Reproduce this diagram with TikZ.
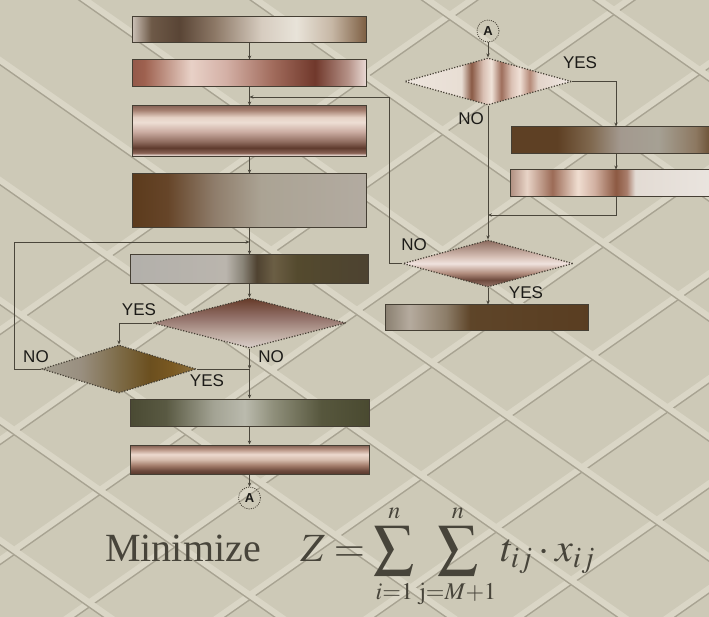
\documentclass[tikz,border=0pt]{standalone}
\usepackage{mathptmx}
\usepackage{fontspec}
\setmainfont{Liberation Serif}
\setsansfont{Liberation Sans}
\usetikzlibrary{arrows.meta, shapes.geometric}
\definecolor{fondo}{HTML}{CDC9B7}
\definecolor{claro}{HTML}{DAD6C6}
\definecolor{sombra}{HTML}{A8A392}
\definecolor{borde}{HTML}{453F34}
\definecolor{trazo}{HTML}{4A463B}
\definecolor{texto}{HTML}{1C1B18}
\definecolor{relieve}{HTML}{47443A}

% degradados de las cajas (la parte util va de 25bp a 75bp)
\pgfdeclarehorizontalshading{cajauno}{100bp}{rgb(0bp)=(.79,.75,.71); rgb(25bp)=(.79,.75,.71); rgb(29bp)=(.43,.35,.28); rgb(35bp)=(.35,.27,.21); rgb(42.5bp)=(.55,.47,.40); rgb(52.5bp)=(.84,.80,.75); rgb(60bp)=(.91,.89,.85); rgb(67.5bp)=(.78,.72,.65); rgb(75bp)=(.49,.37,.26); rgb(100bp)=(.49,.37,.26)}
\pgfdeclarehorizontalshading{cajados}{100bp}{rgb(0bp)=(.58,.35,.29); rgb(25bp)=(.58,.35,.29); rgb(27.5bp)=(.62,.38,.31); rgb(37.5bp)=(.91,.82,.78); rgb(45bp)=(.83,.69,.65); rgb(55bp)=(.63,.42,.36); rgb(64bp)=(.44,.22,.17); rgb(71bp)=(.71,.57,.53); rgb(75bp)=(.92,.86,.84); rgb(100bp)=(.92,.86,.84)}
\pgfdeclareverticalshading{cajatres}{100bp}{rgb(0bp)=(.36,.25,.20); rgb(25bp)=(.36,.25,.20); rgb(27bp)=(.88,.81,.78); rgb(29bp)=(.54,.39,.34); rgb(34bp)=(.37,.23,.18); rgb(40bp)=(.56,.42,.37); rgb(50bp)=(.80,.68,.64); rgb(59bp)=(.93,.87,.83); rgb(64bp)=(.90,.82,.77); rgb(71bp)=(.65,.50,.44); rgb(75bp)=(.54,.40,.35); rgb(100bp)=(.54,.40,.35)}
\pgfdeclarehorizontalshading{cajacuatro}{100bp}{rgb(0bp)=(.36,.23,.11); rgb(25bp)=(.36,.23,.11); rgb(32.5bp)=(.40,.27,.16); rgb(42.5bp)=(.56,.49,.42); rgb(52.5bp)=(.67,.64,.58); rgb(75bp)=(.70,.67,.63); rgb(100bp)=(.70,.67,.63)}
\pgfdeclarehorizontalshading{cajacinco}{100bp}{rgb(0bp)=(.70,.69,.67); rgb(25bp)=(.70,.69,.67); rgb(45bp)=(.73,.71,.68); rgb(48.5bp)=(.54,.52,.47); rgb(51.5bp)=(.31,.26,.19); rgb(55bp)=(.42,.37,.27); rgb(60bp)=(.33,.29,.18); rgb(75bp)=(.30,.26,.19); rgb(100bp)=(.30,.26,.19)}
\pgfdeclarehorizontalshading{cajaseis}{100bp}{rgb(0bp)=(.29,.29,.20); rgb(25bp)=(.29,.29,.20); rgb(32.5bp)=(.35,.35,.26); rgb(42.5bp)=(.64,.64,.58); rgb(49bp)=(.73,.73,.68); rgb(55bp)=(.56,.56,.48); rgb(65bp)=(.34,.34,.24); rgb(75bp)=(.29,.29,.19); rgb(100bp)=(.29,.29,.19)}
\pgfdeclareverticalshading{cajasiete}{100bp}{rgb(0bp)=(.35,.23,.18); rgb(25bp)=(.35,.23,.18); rgb(31bp)=(.43,.29,.24); rgb(40bp)=(.64,.49,.42); rgb(50bp)=(.84,.74,.68); rgb(59bp)=(.93,.85,.81); rgb(67.5bp)=(.72,.58,.52); rgb(75bp)=(.49,.35,.30); rgb(100bp)=(.49,.35,.30)}
\pgfdeclarehorizontalshading{cajaocho}{100bp}{rgb(0bp)=(.37,.25,.14); rgb(36bp)=(.37,.25,.14); rgb(44bp)=(.50,.41,.31); rgb(51bp)=(.64,.60,.56); rgb(60bp)=(.65,.63,.58); rgb(69bp)=(.55,.47,.38); rgb(72.5bp)=(.42,.32,.21); rgb(100bp)=(.42,.32,.21)}
\pgfdeclarehorizontalshading{cajanueve}{100bp}{rgb(0bp)=(.69,.56,.50); rgb(25bp)=(.69,.56,.50); rgb(29bp)=(.91,.83,.78); rgb(35bp)=(.61,.42,.34); rgb(41bp)=(.94,.87,.82); rgb(45bp)=(.82,.69,.63); rgb(50bp)=(.55,.35,.26); rgb(52.5bp)=(.66,.49,.42); rgb(54.5bp)=(.89,.86,.83); rgb(75bp)=(.92,.90,.88); rgb(100bp)=(.92,.90,.88)}
\pgfdeclarehorizontalshading{cajadiez}{100bp}{rgb(0bp)=(.54,.50,.44); rgb(25bp)=(.54,.50,.44); rgb(31bp)=(.71,.67,.62); rgb(40bp)=(.55,.49,.41); rgb(46bp)=(.37,.27,.16); rgb(75bp)=(.35,.24,.13); rgb(100bp)=(.35,.24,.13)}
% degradados de los rombos
\pgfdeclareverticalshading{rombouno}{100bp}{rgb(0bp)=(.85,.81,.79); rgb(25bp)=(.85,.81,.79); rgb(40bp)=(.73,.65,.61); rgb(55bp)=(.58,.45,.42); rgb(75bp)=(.40,.23,.16); rgb(100bp)=(.40,.23,.16)}
\pgfdeclarehorizontalshading{rombodos}{100bp}{rgb(0bp)=(.64,.62,.56); rgb(25bp)=(.64,.62,.56); rgb(37.5bp)=(.60,.56,.50); rgb(50bp)=(.49,.42,.28); rgb(60bp)=(.42,.31,.12); rgb(67.5bp)=(.48,.35,.13); rgb(75bp)=(.54,.44,.25); rgb(100bp)=(.54,.44,.25)}
\pgfdeclarehorizontalshading{rombotres}{100bp}{rgb(0bp)=(.93,.90,.87); rgb(25bp)=(.93,.90,.87); rgb(42bp)=(.91,.87,.83); rgb(45bp)=(.54,.35,.27); rgb(48.5bp)=(.85,.75,.70); rgb(51bp)=(.94,.89,.85); rgb(54bp)=(.62,.43,.36); rgb(57bp)=(.86,.76,.71); rgb(59.5bp)=(.94,.88,.84); rgb(62.5bp)=(.71,.54,.47); rgb(65bp)=(.89,.83,.79); rgb(75bp)=(.94,.91,.89); rgb(100bp)=(.94,.91,.89)}
\pgfdeclareverticalshading{rombocuatro}{100bp}{rgb(0bp)=(.58,.45,.41); rgb(25bp)=(.58,.45,.41); rgb(32.5bp)=(.43,.29,.24); rgb(40bp)=(.70,.56,.50); rgb(50bp)=(.94,.89,.87); rgb(57.5bp)=(.84,.75,.71); rgb(75bp)=(.55,.42,.37); rgb(100bp)=(.55,.42,.37)}

\begin{document}
\begin{tikzpicture}[x=1pt, y=-1pt,
    caja/.style={draw=borde, line width=1pt, inner sep=0pt},
    rombo/.style={diamond, draw=borde, line width=1.2pt, dash pattern=on 1.2pt off 1.6pt, inner sep=0pt},
    enlace/.style={circle, draw=borde, line width=0.8pt, dash pattern=on 1pt off 1.2pt,
                   minimum size=22pt, inner sep=0pt, text=texto, font=\sffamily\bfseries\fontsize{13}{13}\selectfont},
    flujo/.style={draw=trazo, line width=0.8pt, -{Stealth[length=4pt,width=3.4pt]}},
    linea/.style={draw=trazo, line width=0.8pt},
    rotulo/.style={inner sep=0pt, text=texto, font=\sffamily\fontsize{17}{17}\selectfont},
    camino/.style={draw=claro, line width=6pt},
    borde camino/.style={draw=sombra, line width=2.5pt},
    formula/.style={inner sep=0pt, text=relieve, font=\fontsize{40}{48}\selectfont}]
	\useasboundingbox (0,0) rectangle (709,617);
	\fill[fondo] (0,0) rectangle (709,617);

	% calles del fondo
	\begin{scope}
		\clip (0,0) rectangle (709,617);
		\foreach \c in {330, 440, 560, 665, 770, 875, 980, 1085} {
			\draw[borde camino] (-400,\c+284) -- ++(-35:1800);
			\draw[camino] (-400,\c+280) -- ++(-35:1800);
		}
		\foreach \c in {-420, -300, -180, -60, 60, 180, 300, 420, 540} {
			\draw[borde camino] (-400,\c-276) -- ++(35:1800);
			\draw[camino] (-400,\c-280) -- ++(35:1800);
		}
	\end{scope}

	% cajas
	\foreach \n/\x/\y/\w/\h/\s in {caja1/249.5/30/234/26/cajauno, caja2/249.5/73.5/234/27/cajados,
	                               caja3/249.5/131.5/234/51/cajatres, caja4/249.5/201/234/54/cajacuatro,
	                               caja5/249.5/269.5/238/29/cajacinco, caja6/249.5/412.5/239/27/cajaseis,
	                               caja7/249.5/459.5/239/29/cajasiete, cajaR1/616/140.5/210/27/cajaocho,
	                               cajaR2/616/183.5/212/27/cajanueve, cajaR3/486.5/318/203/26/cajadiez} {
		\node[caja, minimum width=\w, minimum height=\h, shading=\s] (\n) at (\x,\y) {};
	}
	% rombos
	\foreach \n/\x/\y/\w/\h/\s in {rombo1/249.5/323/193/50/rombouno, rombo2/119/369/154/48/rombodos,
	                               rombo3/488/81.5/167/47/rombotres, rombo4/488/263.5/170/47/rombocuatro} {
		\node[rombo, minimum width=\w, minimum height=\h, shading=\s] (\n) at (\x,\y) {};
	}
	\node[enlace] (enlaceArriba) at (488,31) {A};
	\node[enlace] (enlaceAbajo) at (249.5,498) {A};

	\coordinate (union1) at (249.5,97);
	\coordinate (union2) at (249.5,242);
	\coordinate (union3) at (249.5,369);
	\coordinate (union4) at (488,215);

	% columna izquierda
	\draw[flujo] (caja1) -- (caja2);
	\draw[linea] (caja2) -- (union1);
	\draw[flujo] (union1) -- (caja3);
	\draw[flujo] (caja3) -- (caja4);
	\draw[linea] (caja4) -- (union2);
	\draw[flujo] (union2) -- (caja5);
	\draw[flujo] (caja5) -- (rombo1);
	\draw[flujo] (rombo1.west) -| (rombo2.north);
	\draw[flujo] (rombo1.south) -- (union3);
	\draw[linea] (rombo2.east) -- (union3);
	\draw[flujo] (union3) -- (caja6);
	\draw[flujo] (rombo2.west) -- ++(-27,0) |- (union2);
	\draw[flujo] (caja6) -- (caja7);
	\draw[flujo] (caja7) -- (enlaceAbajo);
	% columna derecha
	\draw[flujo] (enlaceArriba) -- (rombo3);
	\draw[flujo] (rombo3.east) -| (cajaR1.north);
	\draw[flujo] (cajaR1) -- (cajaR2);
	\draw[flujo] (cajaR2.south) |- (union4);
	\draw[flujo] (rombo3.south) -- (rombo4.north);
	\draw[flujo] (rombo4.south) -- (rombo4.south |- cajaR3.north);
	\draw[flujo] (rombo4.west) -- ++(-13,0) |- (union1);

	\node[rotulo] (si1) at (139,310) {YES};
	\node[rotulo] (no1) at (271,357) {NO};
	\node[rotulo] (no2) at (36,357) {NO};
	\node[rotulo] (si2) at (207,381) {YES};
	\node[rotulo] (si3) at (580,63) {YES};
	\node[rotulo] (no3) at (471,119) {NO};
	\node[rotulo] (no4) at (414,245) {NO};
	\node[rotulo] (si4) at (526,293) {YES};

	\node[formula, anchor=base west] (objetivo) at (105,561)
		{Minimize\quad$\displaystyle Z=\sum_{\scriptscriptstyle i=1}^{\scriptscriptstyle n}
		 \sum_{\scriptscriptstyle \mathrm{j}=M+1}^{\scriptscriptstyle n} t_{ij}\cdot x_{ij}$};
\end{tikzpicture}
\end{document}
